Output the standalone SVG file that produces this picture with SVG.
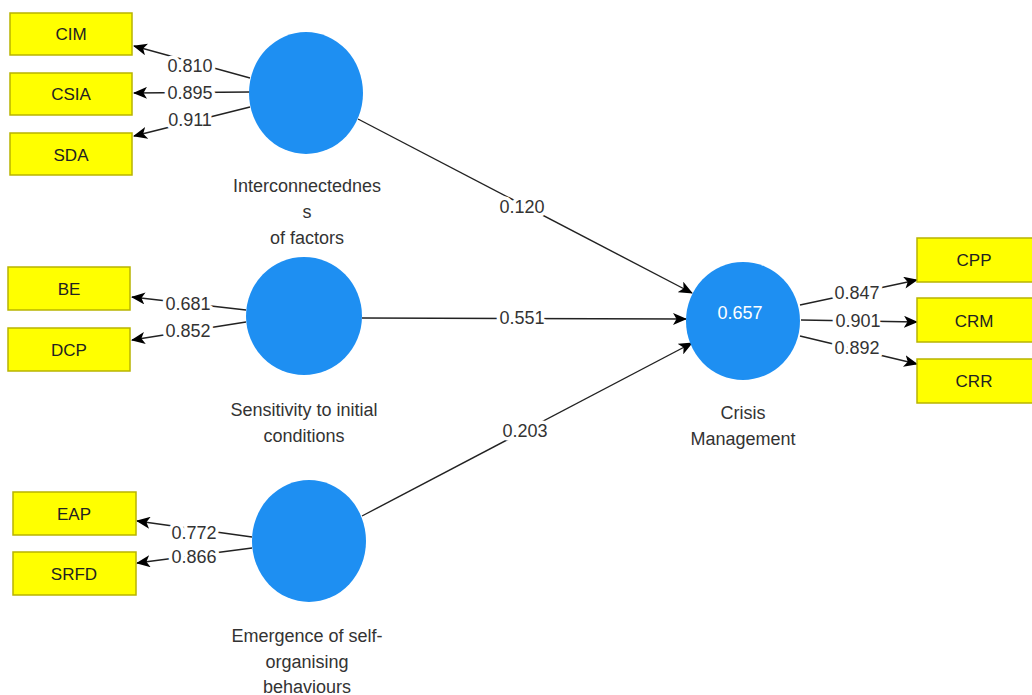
<svg xmlns="http://www.w3.org/2000/svg" width="1032" height="695" viewBox="0 0 1032 695">
<defs>
<marker id="ah" viewBox="0 0 14 12" refX="13" refY="6" markerWidth="14" markerHeight="12" markerUnits="userSpaceOnUse" orient="auto">
<path d="M0,0 L14,6 L0,12 L3.5,6 z" fill="#000"/>
</marker>
<style>
.box{fill:#FFFF00;stroke:#B8B400;stroke-width:1.5}
.lv{fill:#1E8FF2}
.t{font-family:"Liberation Sans",Arial,sans-serif;font-size:17px;fill:#222;text-anchor:middle;dominant-baseline:central}
.lbl{font-family:"Liberation Sans",Arial,sans-serif;font-size:18px;fill:#333;text-anchor:middle;dominant-baseline:central}
.w{font-family:"Liberation Sans",Arial,sans-serif;font-size:18px;fill:#333;text-anchor:middle;dominant-baseline:central;stroke:#fff;stroke-width:7;paint-order:stroke;stroke-linejoin:round}
.c{stroke:#222;stroke-width:1.4;fill:none;marker-end:url(#ah)}
</style>
</defs>
<rect width="1032" height="695" fill="#fff"/>
<g id="connectors">
<line class="c" x1="250" y1="78" x2="134" y2="46"/>
<line class="c" x1="250" y1="92" x2="134" y2="93"/>
<line class="c" x1="250" y1="107" x2="134" y2="136"/>
<line class="c" x1="246" y1="310" x2="132" y2="297"/>
<line class="c" x1="246" y1="322" x2="132" y2="340"/>
<line class="c" x1="252" y1="537" x2="137" y2="521"/>
<line class="c" x1="252" y1="548" x2="137" y2="563"/>
<line class="c" x1="358" y1="119" x2="692" y2="293"/>
<line class="c" x1="362" y1="318" x2="686" y2="319"/>
<line class="c" x1="362" y1="516" x2="692" y2="343"/>
<line class="c" x1="800" y1="305" x2="917" y2="280"/>
<line class="c" x1="801" y1="320" x2="917" y2="322"/>
<line class="c" x1="800" y1="336" x2="917" y2="364"/>
<text class="w" x="190" y="66">0.810</text>
<text class="w" x="190" y="93">0.895</text>
<text class="w" x="190" y="120">0.911</text>
<text class="w" x="188" y="304">0.681</text>
<text class="w" x="188" y="331">0.852</text>
<text class="w" x="194" y="533">0.772</text>
<text class="w" x="194" y="557">0.866</text>
<text class="w" x="522" y="207">0.120</text>
<text class="w" x="522" y="318">0.551</text>
<text class="w" x="525" y="431">0.203</text>
<text class="w" x="857" y="293">0.847</text>
<text class="w" x="858" y="321">0.901</text>
<text class="w" x="857" y="348">0.892</text>
</g>
<g id="CIM"><rect class="box" x="10" y="13" width="122" height="42"/><text class="t" x="71" y="34">CIM</text></g>
<g id="CSIA"><rect class="box" x="10" y="73" width="122" height="42"/><text class="t" x="71" y="94">CSIA</text></g>
<g id="SDA"><rect class="box" x="10" y="133" width="122" height="42"/><text class="t" x="71" y="155">SDA</text></g>
<g id="BE"><rect class="box" x="8" y="267" width="122" height="43"/><text class="t" x="69" y="289">BE</text></g>
<g id="DCP"><rect class="box" x="8" y="328" width="122" height="43"/><text class="t" x="69" y="350">DCP</text></g>
<g id="EAP"><rect class="box" x="13" y="492" width="123" height="43"/><text class="t" x="74" y="514">EAP</text></g>
<g id="SRFD"><rect class="box" x="13" y="552" width="123" height="43"/><text class="t" x="74" y="574">SRFD</text></g>
<g id="CPP"><rect class="box" x="917" y="238" width="122" height="44"/><text class="t" x="974" y="260">CPP</text></g>
<g id="CRM"><rect class="box" x="917" y="298" width="122" height="44"/><text class="t" x="974" y="321">CRM</text></g>
<g id="CRR"><rect class="box" x="917" y="359" width="122" height="44"/><text class="t" x="974" y="381">CRR</text></g>
<g id="Interconnectedness">
<ellipse class="lv" cx="306" cy="93" rx="57" ry="61"/>
<text class="lbl" x="307" y="186">Interconnectednes</text>
<text class="lbl" x="307" y="212">s</text>
<text class="lbl" x="307" y="238">of factors</text>
</g>
<g id="Sensitivity">
<ellipse class="lv" cx="304" cy="316" rx="58" ry="59"/>
<text class="lbl" x="304" y="410">Sensitivity to initial</text>
<text class="lbl" x="304" y="436">conditions</text>
</g>
<g id="Emergence">
<ellipse class="lv" cx="309" cy="541" rx="57" ry="61"/>
<text class="lbl" x="307" y="636">Emergence of self-</text>
<text class="lbl" x="307" y="662">organising</text>
<text class="lbl" x="307" y="687">behaviours</text>
</g>
<g id="CrisisManagement">
<ellipse class="lv" cx="743" cy="321" rx="57" ry="59"/>
<text class="t" x="740" y="313" style="fill:#fff;font-size:18px">0.657</text>
<text class="lbl" x="743" y="413">Crisis</text>
<text class="lbl" x="743" y="439">Management</text>
</g>
</svg>
